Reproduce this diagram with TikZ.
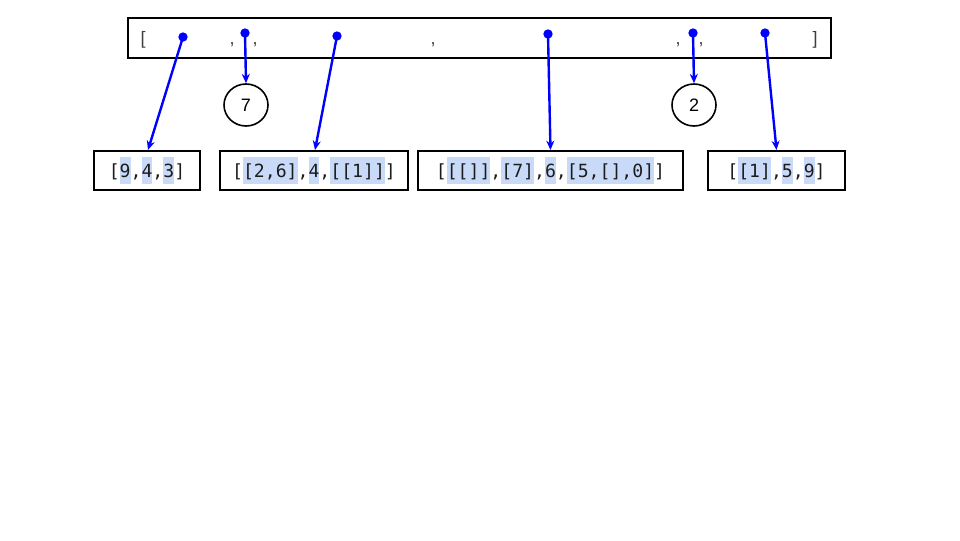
\documentclass[tikz,border=0pt]{standalone}
\usepackage{fontspec}
\setmainfont{Liberation Sans}
\newfontfamily\codefont{DejaVu Sans Mono}
\usetikzlibrary{arrows.meta,shapes.geometric}

\definecolor{hlblue}{HTML}{C9DAF8}
\definecolor{ink}{HTML}{1C1C1C}
\definecolor{ptrblue}{HTML}{0000FF}

% highlighted list element
\newcommand\hl[1]{{\setlength\fboxsep{0pt}\colorbox{hlblue}{\vrule height 15.5pt depth 4.5pt width 0pt #1}}}

\begin{document}
\begin{tikzpicture}[x=0.75pt,y=-0.75pt,
  listbox/.style={draw=black, line width=1.5pt, inner sep=0pt,
    minimum height=29.25pt, text=ink,
    font=\codefont\fontsize{13.6pt}{16pt}\selectfont},
  outerbox/.style={draw=black, line width=1.5pt, inner sep=0pt},
  topchar/.style={anchor=base, inner sep=0pt, text=ink!85,
    font=\fontsize{13.5pt}{16pt}\selectfont},
  valnode/.style={draw=black, line width=1.2pt, ellipse, inner sep=0pt,
    minimum width=33pt, minimum height=31.5pt,
    font=\fontsize{13.5pt}{16pt}\selectfont},
  ptr/.style={circle, fill=ptrblue, inner sep=0pt, minimum size=7pt},
  link/.style={draw=ptrblue, line width=1.8pt,
    -{Stealth[length=7pt,width=6pt]}}]
\useasboundingbox (0,0) rectangle (960,540);

% outer list
\node[outerbox, minimum width=527.25pt, minimum height=30pt] (top) at (479.5,38) {};
\node[topchar] (lb) at (143,44) {[};
\node[topchar] (c1) at (232,44) {,};
\node[topchar] (c2) at (255,44) {,};
\node[topchar] (c3) at (433,44) {,};
\node[topchar] (c4) at (678,44) {,};
\node[topchar] (c5) at (701,44) {,};
\node[topchar] (rb) at (815,44) {]};

% scalar values
\node[valnode] (v7) at (246,105) {7};
\node[valnode] (v2) at (694,105) {2};

% nested lists
\node[listbox, minimum width=79.5pt] (b1) at (147,170.5)
  {[\hl{9},\hl{4},\hl{3}]};
\node[listbox, minimum width=141pt] (b2) at (314,170.5)
  {[\hl{[2,6]},\hl{4},\hl{[[1]]}]};
\node[listbox, minimum width=198.75pt] (b3) at (550.5,170.5)
  {[\hl{[[]]},\hl{[7]},\hl{6},\hl{[5,[],0]}]};
\node[listbox, minimum width=102.75pt] (b4) at (776.5,170.5)
  {[\hl{[1]},\hl{5},\hl{9}]};

% pointer origins
\node[ptr] (p1) at (183,37) {};
\node[ptr] (p2) at (245,33) {};
\node[ptr] (p3) at (337,36) {};
\node[ptr] (p4) at (548,34) {};
\node[ptr] (p5) at (693,33) {};
\node[ptr] (p6) at (765,33) {};

% pointers
\draw[link] (p1.center) -- ([xshift=0.75pt]b1.north);
\draw[link] (p2.center) -- (v7.north);
\draw[link] (p3.center) -- ([xshift=0.75pt]b2.north);
\draw[link] (p4.center) -- (b3.north);
\draw[link] (p5.center) -- (v2.north);
\draw[link] (p6.center) -- (b4.north);
\end{tikzpicture}
\end{document}
